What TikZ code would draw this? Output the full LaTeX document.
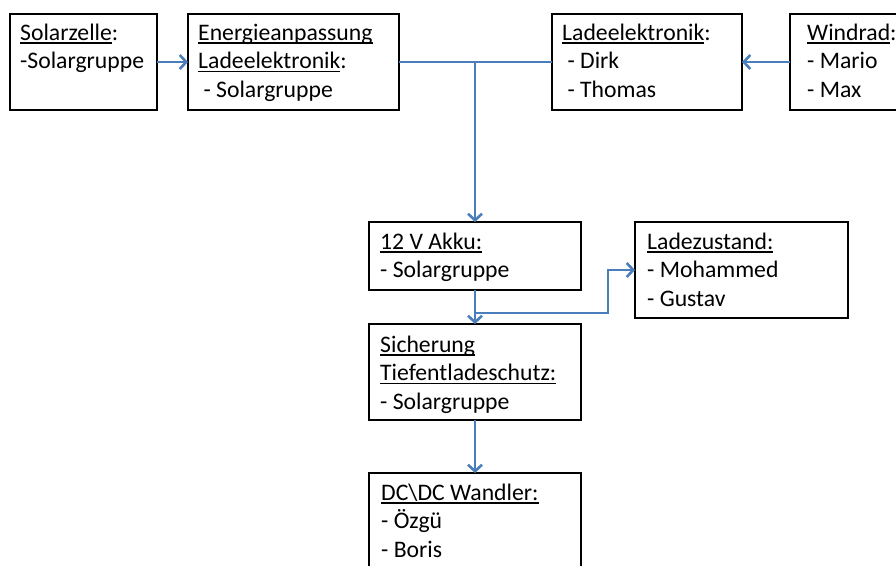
\documentclass[tikz,border=0pt]{standalone}
\usepackage{fontspec}
\setmainfont{Carlito}
\usetikzlibrary{arrows.meta,calc}
\definecolor{lineblue}{HTML}{4A7EBB}
\newlength\ulwd
\newcommand\ulin[1]{\settowidth\ulwd{#1}\rlap{\rule[-3.4pt]{\ulwd}{1.2pt}}#1}
\newcommand\firstln{\rule{0pt}{20pt}}
\begin{document}
\begin{tikzpicture}[x=1pt,y=-1pt,
  box/.style={draw=black,line width=2.8pt,anchor=north west,inner sep=0pt,outer sep=0pt},
  txt/.style={anchor=north west,inner sep=0pt,align=left,font=\fontsize{23.7}{28.5}\selectfont},
  link/.style={draw=lineblue,line width=2.8pt},
  arr/.style={link,-{Straight Barb[length=6.5pt,width=14pt,line width=2.6pt]}}]
\useasboundingbox (0,0) rectangle (896,565);
% boxes
\node[box,minimum width=147pt,minimum height=96pt] (sol) at (10,14) {};
\node[box,minimum width=211pt,minimum height=96pt] (ene) at (188,14) {};
\node[box,minimum width=190pt,minimum height=96pt] (lad) at (552,14) {};
\node[box,minimum width=120pt,minimum height=96pt] (wind) at (790,14) {};
\node[box,minimum width=212pt,minimum height=68pt] (akku) at (369,222) {};
\node[box,minimum width=213pt,minimum height=96pt] (zust) at (635,222) {};
\node[box,minimum width=212pt,minimum height=96pt] (sich) at (369,324) {};
\node[box,minimum width=212pt,minimum height=110pt] (dc) at (369,473) {};
% texts
\node[txt] (tsol) at ([shift={(10,6)}]sol.north west) {\firstln\ulin{Solarzelle}:\\-Solargruppe};
\node[txt] (tene) at ([shift={(10,6)}]ene.north west) {\firstln\ulin{Energieanpassung}\\\ulin{Ladeelektronik}:\\\ - Solargruppe};
\node[txt] (tlad) at ([shift={(10,6)}]lad.north west) {\firstln\ulin{Ladeelektronik}:\\\ - Dirk\\\ - Thomas};
\node[txt] (twind) at ([shift={(17,6)}]wind.north west) {\firstln\ulin{Windrad}:\\- Mario\\- Max};
\node[txt] (takku) at ([shift={(11,7)}]akku.north west) {\firstln\ulin{12 V Akku:}\\- Solargruppe};
\node[txt] (tzust) at ([shift={(12,7)}]zust.north west) {\firstln\ulin{Ladezustand:}\\- Mohammed\\- Gustav};
\node[txt] (tsich) at ([shift={(11,8)}]sich.north west) {\firstln\ulin{Sicherung}\\\ulin{Tiefentladeschutz:}\\- Solargruppe};
\node[txt] (tdc) at ([shift={(12,7)}]dc.north west) {\firstln\ulin{DC\textbackslash DC Wandler:}\\- Özgü\\- Boris};
% connectors
\coordinate (j1) at (akku.north |- ene.east);
\coordinate (j2) at ($(akku.south)+(0,23)$);
\coordinate (k) at (608,0 |- zust.west);
\draw[arr] (sol.east) -- (ene.west);
\draw[link] (ene.east) -- (lad.west);
\draw[arr] (wind.west) -- (lad.east);
\draw[arr] (j1) -- (akku.north);
\draw[arr] (akku.south) -- (sich.north);
\draw[arr] (j2) -| (k) -- (zust.west);
\draw[arr] (sich.south) -- (dc.north);
\end{tikzpicture}
\end{document}
